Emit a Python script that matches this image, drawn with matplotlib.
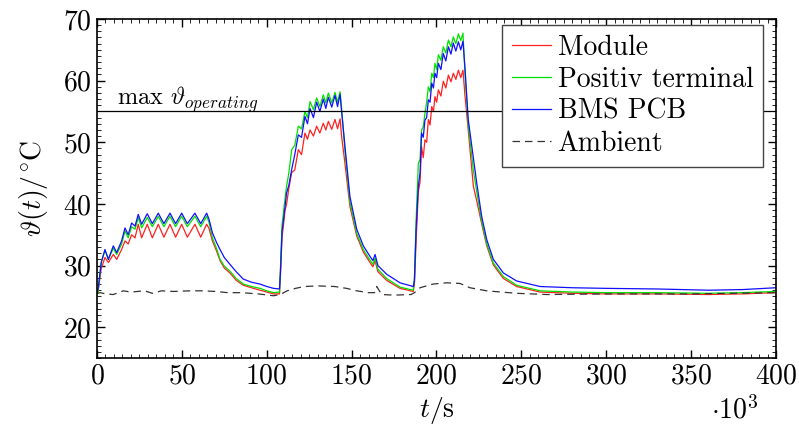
import matplotlib
matplotlib.use("Agg")
import matplotlib.pyplot as plt
from matplotlib.ticker import MultipleLocator

plt.rcParams["font.family"] = "serif"
plt.rcParams["font.serif"] = ["cmr10"]
plt.rcParams["mathtext.fontset"] = "cm"
plt.rcParams["axes.formatter.use_mathtext"] = True

# time in 10^3 s
t = [0, 0.6, 2.5, 4.7, 6.7, 9.6, 11.6, 14.5, 16.5, 18.4, 20.4, 22.4, 24.3, 26.3,
     29.6, 32.6, 36.1, 39.4, 43.0, 46.3, 49.9, 53.2, 57.7, 61.1, 64.6, 66.0,
     68.0, 70.5, 72.5, 75.0, 78.3, 82.0, 86.2, 91.0, 96.0, 100.0, 104.0, 107.5,
     108.0, 109.0, 110.8, 111.7, 113.0, 114.7, 116.5, 118.6, 120.5, 122.5, 124.0,
     125.5, 127.5, 129.4, 131.3, 133.3, 134.8, 136.3, 138.3, 140.2, 141.7, 143.2,
     144.1, 146.1, 149.0, 153.0, 156.9, 160.8, 162.5, 163.8, 165.5, 170.6, 178.5,
     186.3,
     187.0, 188.0, 189.3, 190.3, 191.2, 192.2, 193.2, 194.2, 195.2, 196.2, 197.2,
     198.2, 199.1, 200.1, 201.1, 202.6, 204.0, 205.5, 207.0, 208.5, 209.9, 211.4,
     212.9, 214.3, 215.6, 216.8, 218.7, 221.7, 223.7, 226.6, 229.6, 233.5, 239.4,
     247.2, 261.0, 280, 300, 330, 360, 380, 400]

bms = [25.8, 26.1, 30.5, 32.6, 31.0, 33.2, 32.1, 34.0, 36.1, 35.0, 36.9, 36.4, 38.3, 36.7,
       38.4, 36.8, 38.5, 36.8, 38.5, 36.8, 38.5, 36.8, 38.5, 36.8, 38.5, 37.5,
       35.3, 33.7, 32.6, 31.3, 30.2, 29.0, 27.8, 27.3, 27.0, 26.6, 26.3, 26.2,
       28.5, 35.5, 39.6, 41.8, 43.0, 45.6, 48.0, 51.2, 50.8, 54.2, 53.0,
       55.5, 54.0, 56.5, 55.0, 57.0, 55.5, 57.3, 55.7, 57.6, 55.8, 57.8,
       55.0, 49.3, 41.2, 35.9, 33.2, 31.5, 30.8, 31.8, 30.0, 28.6, 27.2,
       26.6,
       27.5, 36.0, 42.9, 45.0, 51.5, 50.8, 53.6, 54.0, 56.9, 56.5, 59.6,
       58.8, 61.2, 60.5, 62.8, 61.8, 64.4, 63.2, 65.5, 64.3, 66.1, 64.8,
       66.3, 65.0, 66.4, 62.0, 53.7, 47.5, 43.4, 38.0, 34.2, 31.0, 28.8,
       27.5, 26.6, 26.4, 26.3, 26.2, 26.0, 26.1, 26.4]

terminal = [25.3, 25.6, 30.5, 32.5, 31.0, 32.8, 31.8, 33.5, 35.6, 34.5, 36.3, 35.9, 37.8, 36.1,
            37.8, 36.3, 38.0, 36.3, 38.0, 36.3, 38.0, 36.3, 38.0, 36.3, 38.0, 37.0,
            34.5, 32.7, 31.0, 29.9, 29.1, 27.9, 27.0, 26.6, 26.3, 25.9, 25.6, 25.7,
            29.0, 36.5, 41.0, 42.9, 45.0, 48.8, 49.5, 52.6, 52.2, 55.0, 54.0,
            56.6, 55.3, 57.2, 55.8, 57.7, 56.4, 58.0, 56.4, 58.1, 56.5, 58.2,
            55.5, 48.5, 40.3, 35.2, 32.6, 30.9, 30.2, 31.2, 29.4, 27.9, 26.5,
            26.0,
            28.0, 37.5, 46.6, 47.2, 52.0, 52.5, 54.7, 56.5, 59.0, 58.2, 61.2,
            60.5, 62.8, 61.8, 64.2, 63.3, 65.5, 64.5, 66.6, 65.5, 67.1, 66.0,
            67.6, 66.5, 67.7, 61.0, 52.8, 45.5, 42.0, 37.2, 33.5, 30.4, 28.2,
            26.8, 25.9, 25.7, 25.6, 25.6, 25.5, 25.6, 25.8]

module = [25.5, 25.8, 29.5, 31.3, 30.5, 31.8, 31.0, 32.6, 34.0, 33.5, 35.0, 34.5, 36.7, 34.5,
          36.7, 34.5, 36.7, 34.6, 36.7, 34.6, 36.7, 34.6, 36.7, 34.6, 36.7, 36.0,
          34.0, 32.3, 30.8, 29.6, 28.8, 27.6, 26.8, 26.4, 26.0, 25.7, 25.4, 25.4,
          28.0, 34.5, 39.0, 40.0, 42.5, 45.1, 45.5, 48.8, 48.0, 51.5, 50.5,
          52.0, 51.0, 52.6, 51.5, 53.1, 52.0, 53.4, 52.1, 53.7, 52.2, 53.8,
          51.0, 46.5, 39.6, 34.8, 32.2, 30.5, 29.8, 30.8, 29.0, 27.6, 26.3,
          25.8,
          27.0, 34.0, 42.0, 43.5, 49.3, 47.5, 50.4, 50.0, 53.7, 52.8, 55.8,
          55.0, 57.4, 56.5, 58.5, 57.5, 59.9, 58.8, 60.9, 59.8, 61.2, 60.2,
          61.7, 60.5, 61.7, 57.5, 52.0, 42.9, 40.5, 36.8, 33.2, 30.1, 27.9,
          26.6, 25.7, 25.5, 25.4, 25.4, 25.3, 25.4, 25.6]

t_amb = [0, 2, 5, 9.6, 15.5, 20, 28, 32.6, 38, 45, 55, 62, 70, 77, 85, 95, 104,
         108, 112, 117, 122, 130, 140, 147, 153, 160, 163.5, 164.8, 167.7, 175,
         185, 187, 190.3, 198, 206, 213.8, 219.7, 229.6, 247, 265, 300, 350, 400]
ambient = [25.5, 25.6, 25.4, 25.3, 25.9, 25.7, 25.9, 25.5, 25.9, 25.8, 25.9, 25.9,
           25.8, 25.6, 25.6, 25.4, 25.1, 25.3, 25.9, 26.3, 26.6, 26.7, 26.6, 26.3,
           25.9, 25.6, 25.6, 26.6, 25.3, 25.2, 25.3, 25.6, 26.4, 27.0, 27.2, 27.1,
           26.4, 25.9, 25.5, 25.3, 25.4, 25.4, 25.6]

max_operating = 55

fig = plt.figure(figsize=(7.99, 4.34), dpi=100)
ax = fig.add_axes([0.1214, 0.1751, 0.8498, 0.7811])

ax.plot(t, module, color="#ff2020", lw=0.9, label="Module")
ax.plot(t, terminal, color="#00e000", lw=0.9, label="Positiv terminal")
ax.plot(t, bms, color="#1010ff", lw=0.9, label="BMS PCB")
ax.plot(t_amb, ambient, color="#333333", lw=0.9, ls=(0, (6, 4)), label="Ambient")
ax.axhline(max_operating, color="black", lw=0.9)
ax.text(12, 56.0, r"max $\vartheta_{operating}$", fontsize=17.5)

ax.set_xlim(0, 400)
ax.set_ylim(15, 70)
ax.xaxis.set_major_locator(MultipleLocator(50))
ax.xaxis.set_minor_locator(MultipleLocator(5))
ax.yaxis.set_major_locator(MultipleLocator(10))
ax.yaxis.set_minor_locator(MultipleLocator(1))
ax.tick_params(which="both", direction="in", top=True, right=True, labelsize=20)
ax.tick_params(which="major", length=6, width=1)
ax.tick_params(which="minor", length=3, width=0.6)
for s in ax.spines.values():
    s.set_linewidth(1.2)

ax.set_xlabel(r"$t/\mathrm{s}$", fontsize=20)
ax.set_ylabel(r"$\vartheta(t)/^{\circ}\mathrm{C}$", fontsize=20, labelpad=10)
fig.text(0.89, 0.035, r"$\cdot10^3$", fontsize=20)

leg = ax.legend(loc="upper right", bbox_to_anchor=(0.981, 0.982), fontsize=20,
                fancybox=False, framealpha=1, edgecolor="#444444",
                handlelength=1.4, handletextpad=0.25, labelspacing=0.2,
                borderpad=0.35, borderaxespad=0)
leg.get_frame().set_linewidth(1.0)

fig.savefig("out.png", dpi=100)
